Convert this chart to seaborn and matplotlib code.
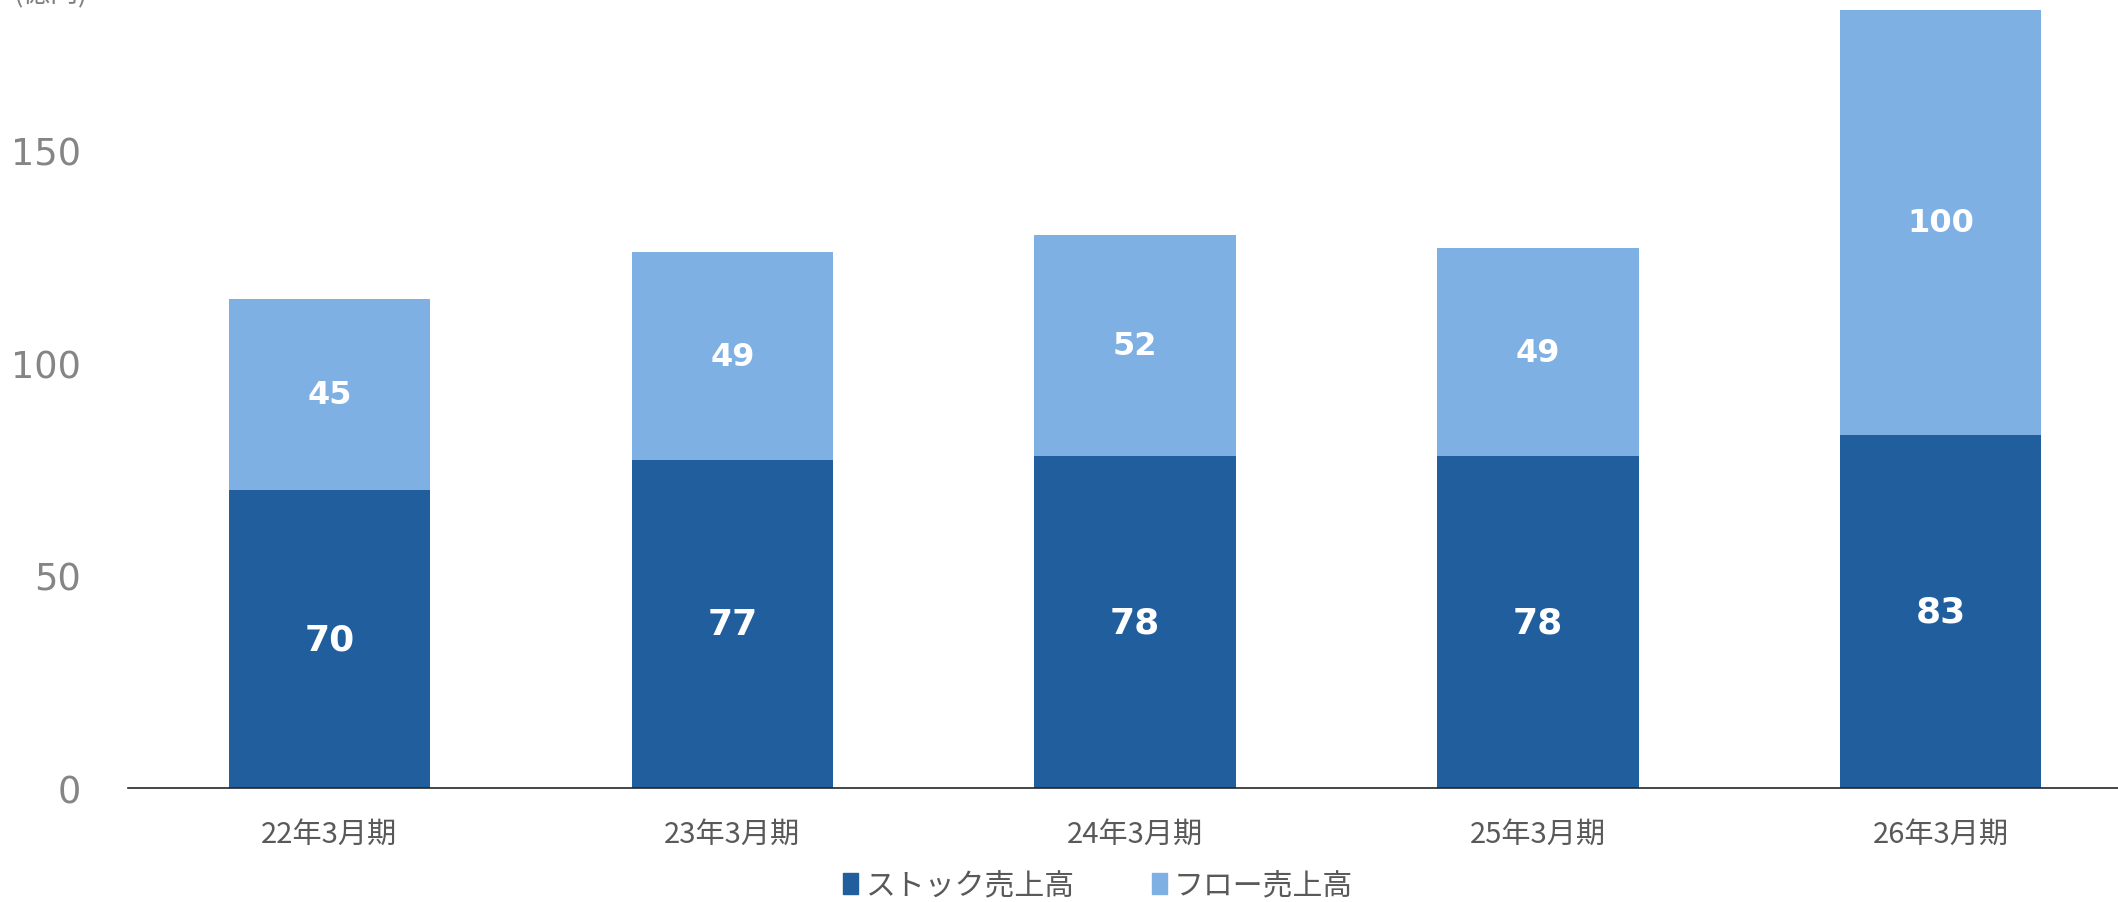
import matplotlib
matplotlib.use("Agg")
import matplotlib.pyplot as plt
import matplotlib.patches as mpatches
import seaborn as sns
import pandas as pd

categories = ["22年3月期", "23年3月期", "24年3月期", "25年3月期", "26年3月期"]
stock = [70, 77, 78, 78, 83]
flow = [45, 49, 52, 49, 100]
series_names = ["ストック売上高", "フロー売上高"]
y_ticks = [0, 50, 100, 150]
unit_label = "(億円)"

DARK = "#205E9E"
LIGHT = "#7EB0E4"

sns.set_theme(style="white")
plt.rcParams["font.family"] = ["Noto Sans CJK JP", "DejaVu Sans"]

df = pd.DataFrame({"cat": categories, "stock": stock, "flow": flow})
df["total"] = df["stock"] + df["flow"]

fig = plt.figure(figsize=(21.18, 9.03), dpi=100)
ax = fig.add_axes([128 / 2118, 1 - 789 / 903, 1 - 128 / 2118, 789 / 903])

sns.barplot(data=df, x="cat", y="total", color=LIGHT, width=0.5, saturation=1,
            ax=ax, linewidth=0)
sns.barplot(data=df, x="cat", y="stock", color=DARK, width=0.5, saturation=1,
            ax=ax, linewidth=0)

ax.set_xlim(-0.5, 4.44)
ax.set_ylim(0, 185.5)
ax.set_yticks(y_ticks)
ax.set_xlabel("")
ax.set_ylabel("")

for s in ["top", "right", "left"]:
    ax.spines[s].set_visible(False)
ax.spines["bottom"].set_color("#262626")
ax.spines["bottom"].set_linewidth(1.2)

ax.tick_params(axis="y", length=0, pad=34, labelsize=26.5, labelcolor="#858585")
for lab in ax.get_yticklabels():
    lab.set_fontfamily("DejaVu Sans")
ax.tick_params(axis="x", length=0, pad=22, labelsize=21, labelcolor="#595959")

for i, (s, f) in enumerate(zip(stock, flow)):
    ax.text(i, s / 2, f"{s}", ha="center", va="center", color="white",
            fontsize=26, fontweight="bold", family="DejaVu Sans")
    ax.text(i, s + f / 2, f"{f}", ha="center", va="center", color="white",
            fontsize=23, fontweight="bold", family="DejaVu Sans")

fig.text(13 / 2118, 1 - 9 / 903, unit_label, ha="left", va="bottom",
         fontsize=20, color="#808080")

handles = [mpatches.Patch(color=DARK, label=series_names[0]),
           mpatches.Patch(color=LIGHT, label=series_names[1])]
leg = fig.legend(handles=handles, loc="center", ncol=2,
                 bbox_to_anchor=(1098 / 2118, 1 - 886 / 903),
                 frameon=False, fontsize=21.5, handlelength=0.5, handleheight=0.7,
                 handletextpad=0.25, columnspacing=2.6, borderpad=0, borderaxespad=0)
for t in leg.get_texts():
    t.set_color("#595959")

fig.savefig("out.png", dpi=100)
